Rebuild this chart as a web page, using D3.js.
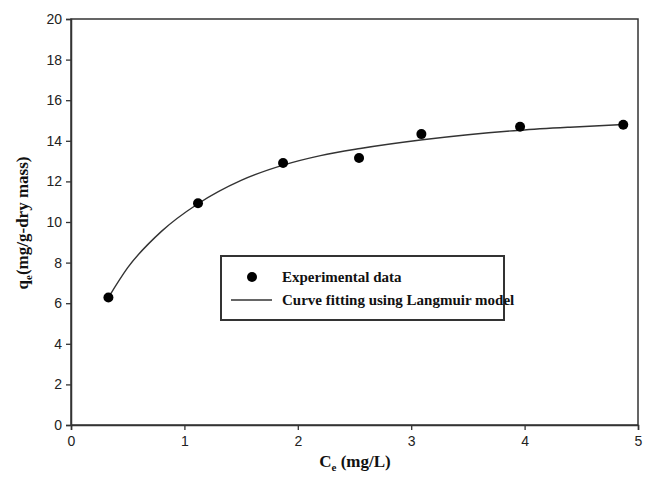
<!DOCTYPE html>
<html>
<head>
<meta charset="utf-8">
<script src="https://cdn.jsdelivr.net/npm/d3@7"></script>
<style>
  html, body { margin: 0; padding: 0; background: #fff; }
  svg { display: block; }
</style>
</head>
<body>
<svg id="chart" width="653" height="485"></svg>
<script>
// Equilibrium concentration Ce (mg/L) and uptake qe (mg/g-dry mass)
const expCe = [0.33, 1.12, 1.87, 2.54, 3.09, 3.96, 4.87];
const expQe = [6.28, 10.92, 12.91, 13.15, 14.33, 14.69, 14.79];

// Langmuir fitted curve, sampled along Ce
const fitCe = [0.33, 0.50, 0.80, 1.12, 1.50, 1.87, 2.20, 2.55, 3.10, 3.50, 3.96, 4.40, 4.87];
const fitQe = [6.28, 7.75, 9.55, 10.90, 12.05, 12.80, 13.27, 13.62, 14.05, 14.30, 14.52, 14.67, 14.80];

const xTicks = [0, 1, 2, 3, 4, 5];
const yTicks = [0, 2, 4, 6, 8, 10, 12, 14, 16, 18, 20];

const legendLabels = ["Experimental data", "Curve fitting using Langmuir model"];

const svg = d3.select("#chart");
const plotLeft = 71, plotRight = 638, plotTop = 19, plotBottom = 425;

const x = d3.scaleLinear().domain([0, 5]).range([plotLeft, plotRight]);
const y = d3.scaleLinear().domain([0, 20]).range([plotBottom, plotTop]);

const axisColor = "#333";
const tickFont = "'Liberation Sans', Arial, sans-serif";
const serif = "'Liberation Serif', 'Times New Roman', serif";

// frame
svg.append("rect")
  .attr("x", plotLeft).attr("y", plotTop)
  .attr("width", plotRight - plotLeft).attr("height", plotBottom - plotTop)
  .attr("fill", "none").attr("stroke", axisColor).attr("stroke-width", 1.5);

// x axis
const gx = svg.append("g").attr("transform", `translate(0,${plotBottom})`)
  .call(d3.axisBottom(x).tickValues(xTicks).tickFormat(d3.format("d")).tickSize(5).tickPadding(6));
// y axis
const gy = svg.append("g").attr("transform", `translate(${plotLeft},0)`)
  .call(d3.axisLeft(y).tickValues(yTicks).tickFormat(d3.format("d")).tickSize(5).tickPadding(4));

[gx, gy].forEach(g => {
  g.select(".domain").attr("stroke", axisColor).attr("stroke-width", 1.5);
  g.selectAll(".tick line").attr("stroke", axisColor).attr("stroke-width", 1.3);
  g.selectAll(".tick text").attr("fill", "#222")
    .style("font-family", tickFont).style("font-size", "14px");
});

// axis titles
const xt = svg.append("text")
  .attr("x", 355).attr("y", 467)
  .attr("text-anchor", "middle")
  .style("font-family", serif).style("font-weight", "bold").style("font-size", "17px")
  .attr("fill", "#111");
xt.append("tspan").text("C");
xt.append("tspan").attr("dy", 4).style("font-size", "11px").text("e");
xt.append("tspan").attr("dy", -4).text(" (mg/L)");

const yt = svg.append("text")
  .attr("transform", "translate(28,223) rotate(-90)")
  .attr("text-anchor", "middle")
  .style("font-family", serif).style("font-weight", "bold").style("font-size", "17px")
  .attr("fill", "#111");
yt.append("tspan").text("q");
yt.append("tspan").attr("dy", 4).style("font-size", "11px").text("e");
yt.append("tspan").attr("dy", -4).text("(mg/g-dry mass)");

// fitted curve
const line = d3.line()
  .x((d, i) => x(fitCe[i]))
  .y((d, i) => y(fitQe[i]))
  .curve(d3.curveMonotoneX);
svg.append("path")
  .datum(fitCe)
  .attr("d", line)
  .attr("fill", "none").attr("stroke", "#333").attr("stroke-width", 1.4);

// experimental points
svg.append("g").selectAll("circle")
  .data(expCe)
  .join("circle")
  .attr("cx", (d) => x(d))
  .attr("cy", (d, i) => y(expQe[i]))
  .attr("r", 5)
  .attr("fill", "#000");

// legend
const lg = svg.append("g");
lg.append("rect")
  .attr("x", 221).attr("y", 256).attr("width", 283).attr("height", 64)
  .attr("fill", "#fff").attr("stroke", "#333").attr("stroke-width", 2);
lg.append("circle").attr("cx", 252).attr("cy", 277).attr("r", 5).attr("fill", "#000");
lg.append("line").attr("x1", 231).attr("x2", 272).attr("y1", 300).attr("y2", 300)
  .attr("stroke", "#333").attr("stroke-width", 1.4);
lg.selectAll("text.lab")
  .data(legendLabels)
  .join("text")
  .attr("class", "lab")
  .attr("x", 282)
  .attr("y", (d, i) => 282 + i * 23)
  .style("font-family", serif).style("font-weight", "bold").style("font-size", "15px")
  .attr("fill", "#111")
  .text(d => d);
</script>
</body>
</html>
